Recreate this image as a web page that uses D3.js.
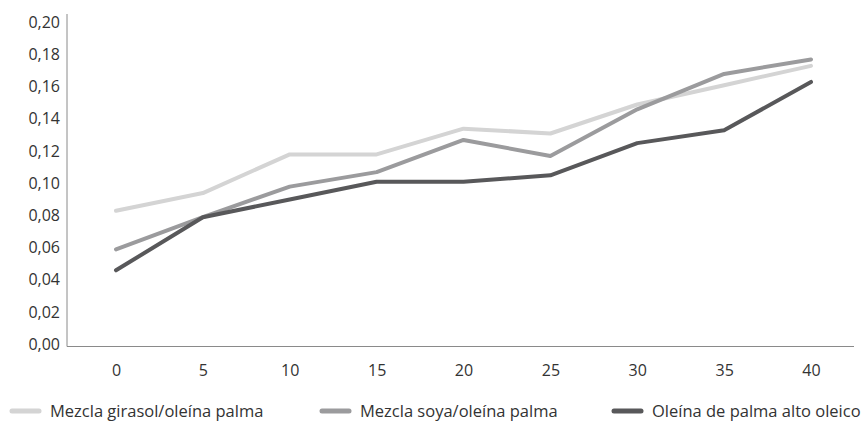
<!DOCTYPE html>
<html>
<head>
<meta charset="utf-8">
<script src="https://cdn.jsdelivr.net/npm/d3@7"></script>
<style>
body { margin: 0; background: #fff; }
svg text { font-family: 'Open Sans', sans-serif; fill: #333; }
</style>
</head>
<body>
<div id="graph"></div>
<script>
var minutes = ['0', '5', '10', '15', '20', '25', '30', '35', '40']
var girasol = [0.084, 0.095, 0.119, 0.119, 0.135, 0.132, 0.150, 0.162, 0.174]
var soya = [0.060, 0.080, 0.099, 0.108, 0.128, 0.118, 0.147, 0.169, 0.178]
var altoOleico = [0.047, 0.080, 0.091, 0.102, 0.102, 0.106, 0.126, 0.134, 0.164]
var yTicks = [0, 0.02, 0.04, 0.06, 0.08, 0.10, 0.12, 0.14, 0.16, 0.18, 0.20]
var seriesNames = ['Mezcla girasol/oleína palma', 'Mezcla soya/oleína palma', 'Oleína de palma alto oleico']

var colors = ['#d4d4d4', '#9b9b9d', '#58585a']
var series = [girasol, soya, altoOleico]

var width = 862
var height = 423
var left = 67
var bottom = 346

var svg = d3.select('#graph').append('svg')
	.attr('width', width)
	.attr('height', height)

var xScale = d3.scalePoint()
	.domain(minutes)
	.range([116, 811])

var yScale = d3.scaleLinear()
	.domain([0, 0.2])
	.range([bottom, 24])

var locale = d3.formatLocale({ decimal: ',', thousands: '.', grouping: [3], currency: ['', ''] })
var fmt = locale.format('.2f')

// y axis
var yAxis = svg.append('g')
	.attr('transform', 'translate(' + left + ',0)')
	.call(d3.axisLeft(yScale).tickValues(yTicks).tickFormat(fmt).tickSize(0).tickPadding(7))
yAxis.select('.domain').remove()
yAxis.selectAll('text').style('font-size', '16px').attr('dy', '0.2em')
svg.append('line')
	.attr('x1', left).attr('x2', left)
	.attr('y1', 14).attr('y2', bottom + 0.5)
	.attr('stroke', '#8a8a8a').attr('stroke-width', 1)

// x axis
var xAxis = svg.append('g')
	.attr('transform', 'translate(0,' + bottom + ')')
	.call(d3.axisBottom(xScale).tickSize(0).tickPadding(19))
xAxis.select('.domain').remove()
xAxis.selectAll('text').style('font-size', '16px')
svg.append('line')
	.attr('x1', left).attr('x2', 854)
	.attr('y1', bottom + 0.5).attr('y2', bottom + 0.5)
	.attr('stroke', '#8a8a8a').attr('stroke-width', 1)

var line = d3.line()
	.x(function(d, i) { return xScale(minutes[i]) })
	.y(function(d) { return yScale(d) })

svg.selectAll('path.serie')
	.data(series)
	.enter().append('path')
	.attr('class', 'serie')
	.attr('d', line)
	.attr('fill', 'none')
	.attr('stroke', function(d, i) { return colors[i] })
	.attr('stroke-width', 4)
	.attr('stroke-linecap', 'round')
	.attr('stroke-linejoin', 'round')

// legend
var legendX = [10, 320, 612]
var legend = svg.selectAll('g.legend')
	.data(seriesNames)
	.enter().append('g')
	.attr('class', 'legend')
	.attr('transform', function(d, i) { return 'translate(' + legendX[i] + ',411)' })

legend.append('line')
	.attr('x1', 2).attr('x2', 29)
	.attr('y1', 0).attr('y2', 0)
	.attr('stroke', function(d, i) { return colors[i] })
	.attr('stroke-width', 5)
	.attr('stroke-linecap', 'round')

legend.append('text')
	.attr('x', function(d, i) { return i === 2 ? 40 : 40 })
	.attr('y', 0)
	.attr('dy', '0.35em')
	.style('font-size', '16.5px')
	.text(function(d) { return d })
</script>
</body>
</html>
